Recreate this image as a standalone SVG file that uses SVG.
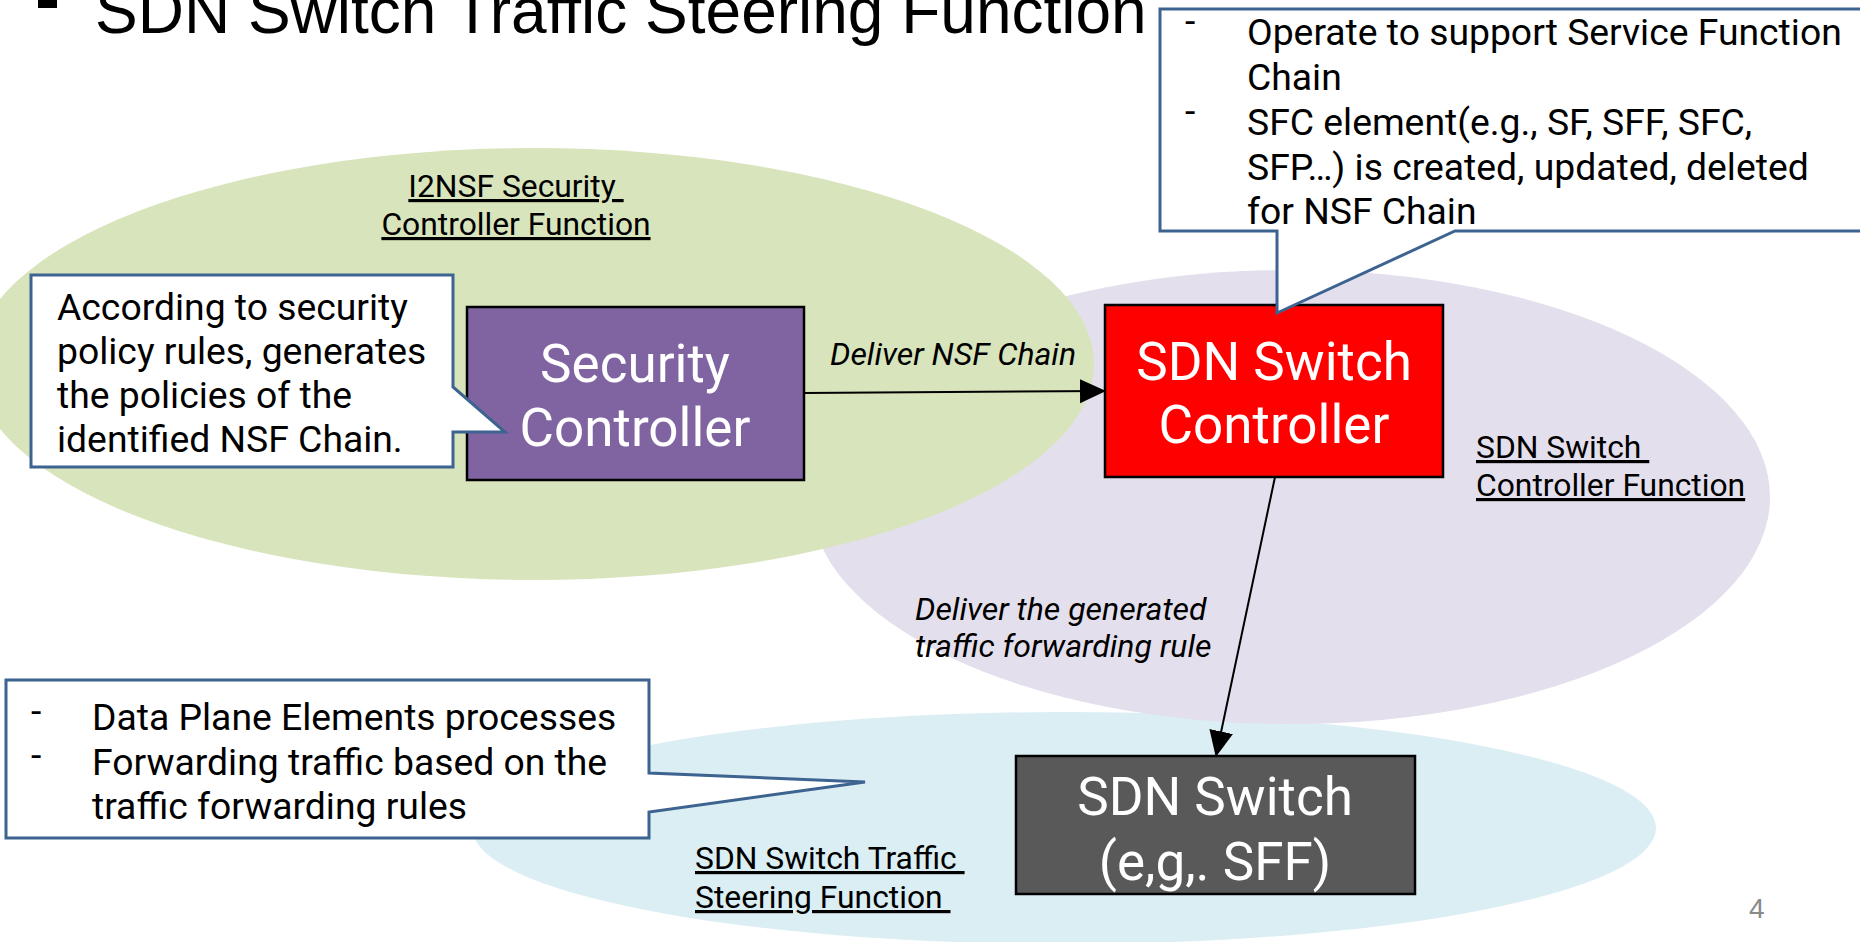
<svg xmlns="http://www.w3.org/2000/svg" width="1860" height="942" viewBox="0 0 1860 942">
<style>
  .title { font-family: "Liberation Sans", Arial, sans-serif; font-size: 64px; fill: #000; }
  .box-text { font-family: Roboto, "Liberation Sans", sans-serif; font-size: 53px; fill: #fff; text-anchor: middle; }
  .call { fill: #fff; stroke: #3d6390; stroke-width: 3; stroke-linejoin: miter; }
  .callt { font-family: Roboto, "Liberation Sans", sans-serif; font-size: 37.3px; fill: #000; }
  .lbl { font-family: Roboto, "Liberation Sans", sans-serif; font-size: 31.8px; fill: #000; text-decoration: underline; }
  .edge-lbl { font-family: Roboto, "Liberation Sans", sans-serif; font-size: 32px; font-style: italic; fill: #000; }
  .node { stroke: #000; stroke-width: 2.5; }
  .conn { stroke: #000; stroke-width: 2; fill: none; }
</style>
<defs>
  <marker id="arrow" markerUnits="userSpaceOnUse" markerWidth="26" markerHeight="26" viewBox="0 0 26 24" refX="25" refY="12" orient="auto">
    <path d="M0,0 L26,12 L0,24 Z" fill="#000"/>
  </marker>
</defs>
<rect width="1860" height="942" fill="#fff"/>

<g id="regions">
  <ellipse id="region-steering" cx="1064" cy="828" rx="592" ry="116" fill="#daeef3"/>
  <ellipse id="region-sdn-controller" cx="1290" cy="497" rx="480" ry="227" fill="#e4dfec"/>
  <ellipse id="region-security" cx="534" cy="364" rx="560" ry="216" fill="#d8e4bc"/>
</g>

<g id="title">
  <rect x="38" y="-12" width="19" height="20" fill="#000"/>
  <text class="title" x="95" y="33">SDN Switch Traffic Steering Function</text>
</g>

<g id="region-labels">
  <text class="lbl" x="516" y="197" text-anchor="middle" xml:space="preserve">I2NSF Security </text>
  <text class="lbl" x="516" y="235" text-anchor="middle">Controller Function</text>
  <text class="lbl" x="1476" y="458" xml:space="preserve">SDN Switch </text>
  <text class="lbl" x="1476" y="496">Controller Function</text>
  <text class="lbl" x="695" y="869" xml:space="preserve">SDN Switch Traffic </text>
  <text class="lbl" x="695" y="908" xml:space="preserve">Steering Function </text>
</g>

<g id="connectors">
  <line class="conn" x1="804" y1="393" x2="1105" y2="391" marker-end="url(#arrow)"/>
  <line class="conn" x1="1275" y1="477" x2="1216" y2="756" marker-end="url(#arrow)"/>
  <text class="edge-lbl" x="830" y="365">Deliver NSF Chain</text>
  <text class="edge-lbl" x="915" y="620">Deliver the generated</text>
  <text class="edge-lbl" x="915" y="657">traffic forwarding rule</text>
</g>

<g id="node-security-controller">
  <rect class="node" x="467" y="307" width="337" height="173" fill="#8064a2"/>
  <text class="box-text" x="635" y="382">Security</text>
  <text class="box-text" x="635" y="446">Controller</text>
</g>

<g id="node-sdn-switch-controller">
  <rect class="node" x="1105" y="305" width="338" height="172" fill="#ff0000"/>
  <text class="box-text" x="1274" y="380">SDN Switch</text>
  <text class="box-text" x="1274" y="443">Controller</text>
</g>

<g id="node-sdn-switch">
  <rect class="node" x="1016" y="756" width="399" height="138" fill="#595959"/>
  <text class="box-text" x="1215" y="815">SDN Switch</text>
  <text class="box-text" x="1215" y="880">(e,g,. SFF)</text>
</g>

<g id="callout-security">
  <path class="call" d="M31,275 H453 V387 L505,432 H453 V467 H31 Z"/>
  <text class="callt" x="57" y="320">According to security</text>
  <text class="callt" x="57" y="364">policy rules, generates</text>
  <text class="callt" x="57" y="408">the policies of the</text>
  <text class="callt" x="57" y="452">identified NSF Chain.</text>
</g>

<g id="callout-sfc">
  <path class="call" d="M1160,9 H1875 V231 H1455 L1277,313 V231 H1160 Z"/>
  <text class="callt" x="1185" y="34">-</text>
  <text class="callt" x="1247" y="45">Operate to support Service Function</text>
  <text class="callt" x="1247" y="90">Chain</text>
  <text class="callt" x="1185" y="124">-</text>
  <text class="callt" x="1247" y="135">SFC element(e.g., SF, SFF, SFC,</text>
  <text class="callt" x="1247" y="180">SFP…) is created, updated, deleted</text>
  <text class="callt" x="1247" y="224">for NSF Chain</text>
</g>

<g id="callout-dataplane">
  <path class="call" d="M6,680 H649 V773 L865,782 L649,812 V838 H6 Z"/>
  <text class="callt" x="31" y="724">-</text>
  <text class="callt" x="92" y="730">Data Plane Elements processes</text>
  <text class="callt" x="31" y="768">-</text>
  <text class="callt" x="92" y="775">Forwarding traffic based on the</text>
  <text class="callt" x="92" y="819">traffic forwarding rules</text>
</g>

<g id="page-number">
  <text x="1749" y="918" font-family="'Liberation Sans', Arial, sans-serif" font-size="28" fill="#898989">4</text>
</g>
</svg>
